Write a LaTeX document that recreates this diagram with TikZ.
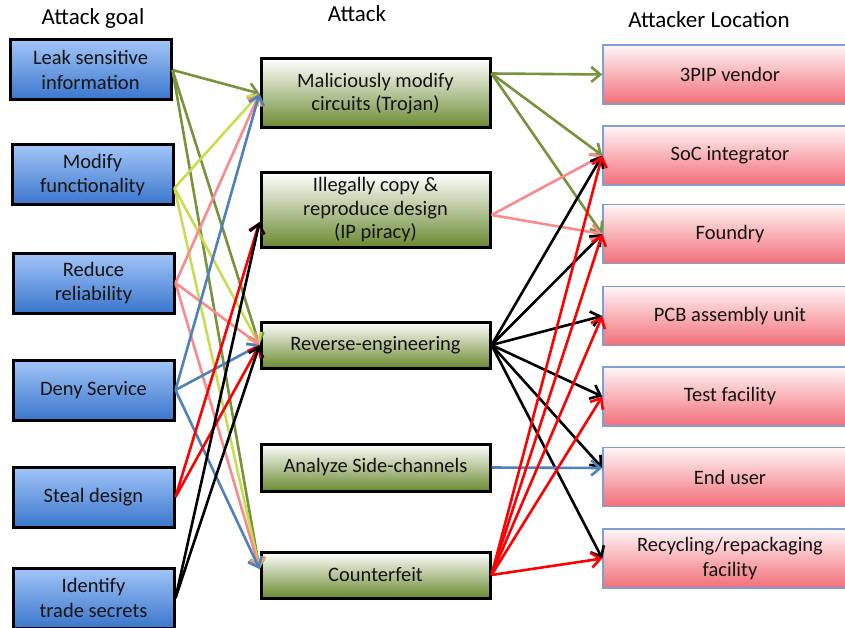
\documentclass[tikz,border=0pt]{standalone}
\usepackage{fontspec}
\setmainfont{Carlito}
\usetikzlibrary{arrows.meta,calc}
\definecolor{olv}{HTML}{77933C}
\definecolor{limeg}{HTML}{C8DE50}
\definecolor{salmon}{HTML}{F98A8E}
\definecolor{stblue}{HTML}{4F81BD}
\definecolor{bluetop}{HTML}{A2C5F8}
\definecolor{bluebot}{HTML}{3A76CC}
\definecolor{greenbot}{HTML}{6A8A30}
\definecolor{pinktop}{HTML}{FFF6F6}
\definecolor{pinkbot}{HTML}{F26E78}
\definecolor{locborder}{HTML}{7F9FD0}
\definecolor{txt}{HTML}{141414}
\tikzset{
  goal/.style={draw=black, line width=3pt, top color=bluetop, bottom color=bluebot,
    minimum width=161pt, minimum height=60pt, align=center, text=txt, inner sep=0pt,
    font=\fontsize{20.5}{24.5}\selectfont},
  atk/.style={draw=black, line width=3pt, top color=white, bottom color=greenbot,
    minimum width=229pt, align=center, text=txt, inner sep=0pt,
    font=\fontsize{20.5}{23.5}\selectfont},
  loc/.style={draw=locborder, line width=1.5pt, top color=pinktop, bottom color=pinkbot,
    minimum width=254pt, minimum height=59pt, align=center, text=txt, inner sep=0pt,
    font=\fontsize{20.5}{24.5}\selectfont},
  head/.style={text=black, font=\fontsize{23}{27}\selectfont, inner sep=0pt},
  conn/.style={line width=2.6pt, -{Straight Barb[length=9pt,width=15pt]}},
}
\begin{document}
\begin{tikzpicture}[x=1pt,y=-1pt]
\useasboundingbox (0,0) rectangle (845,628);
\clip (0,0) rectangle (845,628);
\fill[white] (0,0) rectangle (845,628);
% headings
\node[head] (h1) at (93,18) {Attack goal};
\node[head] (h2) at (357,14) {Attack};
\node[head] (h3) at (709,20) {Attacker Location};
% attack goals
\node[goal] (leak) at (90.5,70) {Leak sensitive\\information};
\node[goal] (modf) at (92.5,175) {Modify\\functionality};
\node[goal] (redu) at (93.5,283) {Reduce\\reliability};
\node[goal] (deny) at (93.5,390) {Deny Service};
\node[goal] (stea) at (93.5,497) {Steal design};
\node[goal] (iden) at (93.5,598) {Identify\\trade secrets};
% attacks
\node[atk, minimum height=69pt] (mal) at (375.5,93.5) {Maliciously modify\\circuits (Trojan)};
\node[atk, minimum height=74pt] (ill) at (375.5,210) {Illegally copy \&\\reproduce design\\(IP piracy)};
\node[atk, minimum height=46pt] (rev) at (375.5,345) {Reverse-engineering};
\node[atk, minimum height=47pt] (ana) at (375.5,467.5) {Analyze Side-channels};
\node[atk, minimum height=46pt] (cnt) at (375.5,575) {Counterfeit};
% locations
\node[loc] (pip) at (730,74.5) {3PIP vendor};
\node[loc] (soc) at (730,155.5) {SoC integrator};
\node[loc] (fou) at (730,234) {Foundry};
\node[loc] (pcb) at (730,316) {PCB assembly unit};
\node[loc] (tst) at (730,396.5) {Test facility};
\node[loc] (eus) at (730,477) {End user};
\node[loc] (rec) at (730,558.5) {Recycling/repackaging\\facility};
% helper points
\coordinate (modo) at ($(modf.east)+(0,13)$);
\coordinate (illin) at ($(ill.west)+(0,12)$);
\coordinate (cntin) at ($(cnt.west)+(0,-6)$);
\coordinate (malo) at ($(mal.east)+(0,-20)$);
\coordinate (illo) at ($(ill.east)+(0,5)$);
\coordinate (eusi) at ($(eus.west)+(0,-9)$);
% goal -> attack
\draw[conn, olv] (leak.east) -- (mal.west);
\draw[conn, olv] (leak.east) -- (rev.west);
\draw[conn, olv] (leak.east) -- (cntin);
\draw[conn, limeg] (modo) -- (mal.west);
\draw[conn, limeg] (modo) -- (rev.west);
\draw[conn, limeg] (modo) -- (cntin);
\draw[conn, salmon] (redu.east) -- (mal.west);
\draw[conn, salmon] (redu.east) -- (rev.west);
\draw[conn, salmon] (redu.east) -- (cntin);
\draw[conn, stblue] (deny.east) -- (mal.west);
\draw[conn, stblue] (deny.east) -- (rev.west);
\draw[conn, stblue] (deny.east) -- (cntin);
\draw[conn, red] (stea.east) -- (illin);
\draw[conn, red] (stea.east) -- (rev.west);
\draw[conn, black] (iden.east) -- (illin);
\draw[conn, black] (iden.east) -- (rev.west);
% attack -> location
\draw[conn, olv] (malo) -- (pip.west);
\draw[conn, olv] (malo) -- (soc.west);
\draw[conn, olv] (malo) -- (fou.west);
\draw[conn, salmon] (illo) -- (soc.west);
\draw[conn, salmon] (illo) -- (fou.west);
\draw[conn, black] (rev.east) -- (soc.west);
\draw[conn, black] (rev.east) -- (fou.west);
\draw[conn, black] (rev.east) -- (pcb.west);
\draw[conn, black] (rev.east) -- (tst.west);
\draw[conn, black] (rev.east) -- (eusi);
\draw[conn, black] (rev.east) -- (rec.west);
\draw[conn, stblue] (ana.east) -- (eusi);
\draw[conn, red] (cnt.east) -- (soc.west);
\draw[conn, red] (cnt.east) -- (fou.west);
\draw[conn, red] (cnt.east) -- (pcb.west);
\draw[conn, red] (cnt.east) -- (tst.west);
\draw[conn, red] (cnt.east) -- (rec.west);
\end{tikzpicture}
\end{document}
